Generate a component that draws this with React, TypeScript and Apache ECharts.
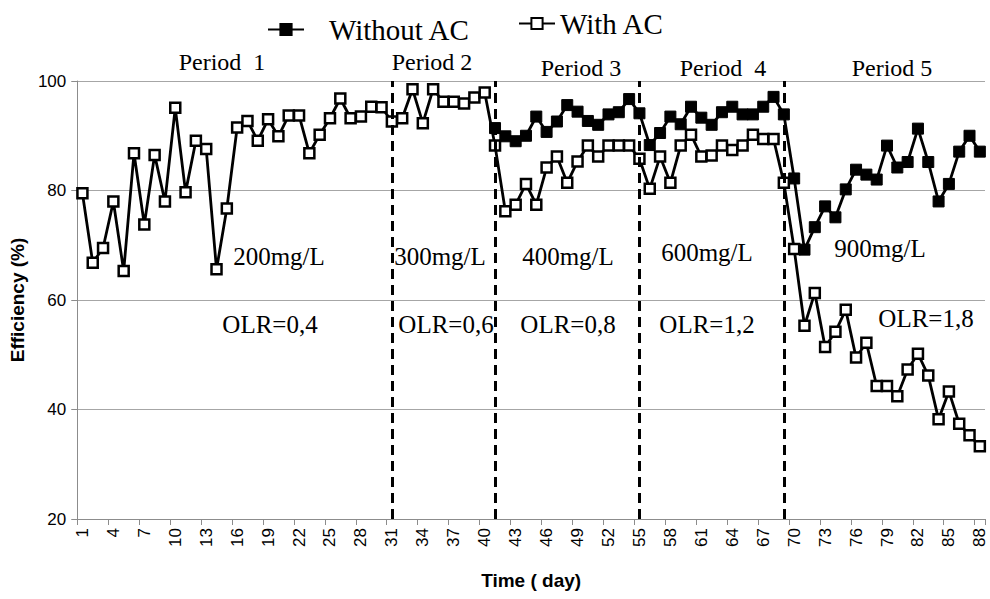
import React, { useEffect, useRef } from "react";
import * as echarts from "echarts";

const days = [
  "1","2","3","4","5","6","7","8","9","10","11","12","13","14","15","16","17","18","19","20","21","22",
  "23","24","25","26","27","28","29","30","31","32","33","34","35","36","37","38","39","40","41","42","43","44",
  "45","46","47","48","49","50","51","52","53","54","55","56","57","58","59","60","61","62","63","64","65","66",
  "67","68","69","70","71","72","73","74","75","76","77","78","79","80","81","82","83","84","85","86","87","88",
];

const withoutAC: (number | null)[] = [
  null, null, null, null, null, null, null, null, null, null,
  null, null, null, null, null, null, null, null, null, null,
  null, null, null, null, null, null, null, null, null, null,
  null, null, null, null, null, null, null, null, null, null,
  91.4, 89.9, 89.0, 90.0, 93.5, 90.7, 92.6, 95.6, 94.4, 92.7,
  92.0, 93.9, 94.3, 96.7, 94.1, 88.3, 90.5, 93.5, 92.1, 95.3,
  93.3, 92.0, 94.3, 95.3, 93.9, 93.9, 95.3, 97.1, 93.9, 82.2,
  69.2, 73.3, 77.1, 75.1, 80.2, 83.8, 82.9, 82.0, 88.2, 84.2,
  85.2, 91.3, 85.2, 78.0, 81.2, 87.1, 90.0, 87.1,
];

const withAC: number[] = [
  79.5, 66.8, 69.5, 78.0, 65.3, 86.8, 73.8, 86.5, 78.0, 95.1,
  79.7, 89.1, 87.6, 65.6, 76.7, 91.5, 92.7, 89.1, 93.0, 89.9,
  93.7, 93.7, 86.8, 90.2, 93.2, 96.8, 93.2, 93.5, 95.3, 95.2,
  92.6, 93.2, 98.5, 92.3, 98.5, 96.2, 96.2, 95.9, 97.0, 97.9,
  88.2, 76.2, 77.4, 81.2, 77.4, 84.2, 86.2, 81.4, 85.3, 88.2,
  86.2, 88.2, 88.2, 88.2, 85.8, 80.3, 86.2, 81.4, 88.2, 90.2,
  86.2, 86.4, 88.2, 87.4, 88.2, 90.2, 89.4, 89.4, 81.4, 69.3,
  55.3, 61.3, 51.4, 54.2, 58.2, 49.5, 52.2, 44.3, 44.3, 42.4,
  47.3, 50.2, 46.2, 38.2, 43.3, 37.4, 35.3, 33.3,
];

const periodBoundaries = ["31", "41", "55", "69"];
const periodLabels = ["Period  1", "Period 2", "Period 3", "Period  4", "Period 5"];
const concLabels = ["200mg/L", "300mg/L", "400mg/L", "600mg/L", "900mg/L"];
const olrLabels = ["OLR=0,4", "OLR=0,6", "OLR=0,8", "OLR=1,2", "OLR=1,8"];

const periodPos = [[222, 62], [432, 62], [581, 68], [723, 68], [892, 68]];
const concPos = [[279, 256], [440, 256], [568, 256], [707, 252], [880, 248]];
const olrPos = [[270, 324], [446, 324], [568, 324], [707, 324], [926, 318]];

const SERIF = "'Liberation Serif', 'Times New Roman', serif";
const SANS = "'Liberation Sans', Arial, sans-serif";

export default function App() {
  const ref = useRef<HTMLDivElement>(null);
  useEffect(() => {
    if (!ref.current) return;
    const chart = echarts.init(ref.current, undefined, { renderer: "svg" });
    const texts: any[] = [];
    const addTexts = (labels: string[], pos: number[][], size: number) => {
      labels.forEach((t, i) => {
        texts.push({
          type: "text",
          x: pos[i][0],
          y: pos[i][1],
          style: {
            text: t,
            fill: "#000",
            font: `${size}px ${SERIF}`,
            textAlign: "center",
            textVerticalAlign: "middle",
          },
          z: 10,
        });
      });
    };
    addTexts(periodLabels, periodPos, 24);
    addTexts(concLabels, concPos, 25);
    addTexts(olrLabels, olrPos, 25);

    chart.setOption({
      animation: false,
      backgroundColor: "#fff",
      grid: { left: 77, right: 5, top: 81, bottom: 80, containLabel: false },
      legend: [
        {
          data: ["Without AC"],
          left: 262,
          top: 10,
          itemWidth: 36,
          itemHeight: 14,
          textStyle: { fontFamily: SERIF, fontSize: 29, color: "#000", padding: [0, 0, 0, 20] },
        },
        {
          data: ["With AC"],
          left: 513,
          top: 4,
          itemWidth: 36,
          itemHeight: 14,
          textStyle: { fontFamily: SERIF, fontSize: 29, color: "#000" },
        },
      ],
      xAxis: {
        type: "category",
        data: days,
        boundaryGap: true,
        name: "Time ( day)",
        nameLocation: "middle",
        nameGap: 52,
        nameTextStyle: { fontFamily: SANS, fontSize: 19, fontWeight: "bold", color: "#000" },
        axisLine: { lineStyle: { color: "#8c8c8c", width: 1 } },
        axisTick: { show: true, interval: 2, alignWithLabel: false, length: 6, lineStyle: { color: "#8c8c8c" } },
        axisLabel: { interval: 2, rotate: 90, margin: 9, fontFamily: SANS, fontSize: 17, color: "#000" },
        splitLine: { show: false },
      },
      yAxis: {
        type: "value",
        min: 20,
        max: 100,
        interval: 20,
        name: "Efficiency (%)",
        nameLocation: "middle",
        nameGap: 44,
        nameTextStyle: { fontFamily: SANS, fontSize: 19, fontWeight: "bold", color: "#000" },
        axisLine: { show: true, lineStyle: { color: "#8c8c8c", width: 1 } },
        axisTick: { show: true, length: 6, lineStyle: { color: "#8c8c8c" } },
        axisLabel: { margin: 11, fontFamily: SANS, fontSize: 17, color: "#000" },
        splitLine: { show: true, lineStyle: { color: "#a6a6a6", width: 1 } },
      },
      series: [
        {
          name: "Without AC",
          type: "line",
          data: withoutAC,
          symbol: "rect",
          symbolSize: 11,
          showAllSymbol: true,
          connectNulls: false,
          lineStyle: { color: "#000", width: 2.8 },
          itemStyle: { color: "#000", borderColor: "#000", borderWidth: 1 },
          z: 3,
        },
        {
          name: "With AC",
          type: "line",
          data: withAC,
          symbol: "rect",
          symbolSize: 10,
          showAllSymbol: true,
          lineStyle: { color: "#000", width: 2.8 },
          itemStyle: { color: "#fff", borderColor: "#000", borderWidth: 2.5 },
          z: 4,
          markLine: {
            silent: true,
            symbol: ["none", "none"],
            label: { show: false },
            lineStyle: { color: "#000", type: [10, 6], width: 3 },
            data: periodBoundaries.map((d) => ({ xAxis: d })),
          },
        },
      ],
      graphic: texts,
    });
    return () => chart.dispose();
  }, []);
  return (
    <div
      ref={ref}
      style={{ position: "fixed", left: 0, top: 0, width: 990, height: 599, background: "#fff" }}
    />
  );
}
